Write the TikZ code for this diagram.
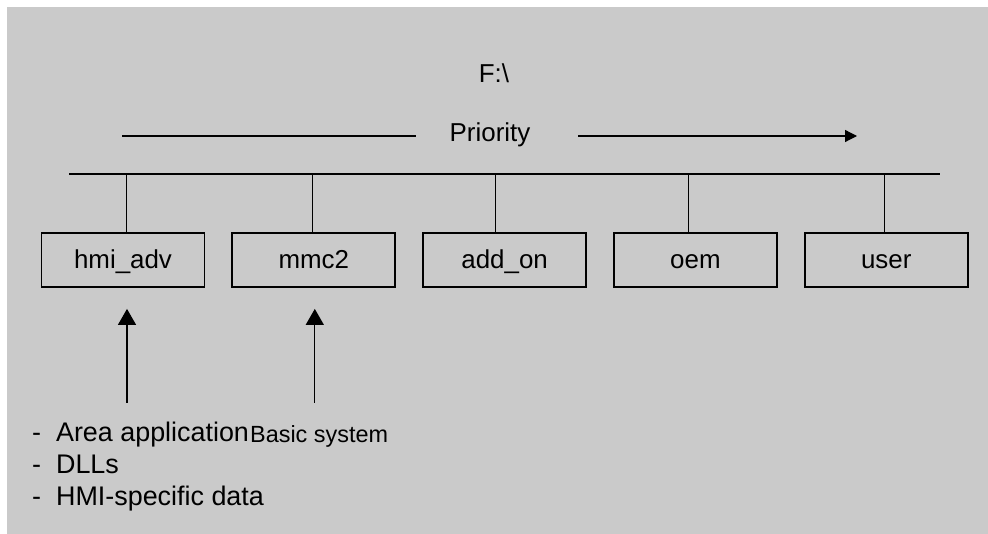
\documentclass[tikz,border=0pt]{standalone}
\usepackage{fontspec}
\setmainfont{Liberation Sans}
\usetikzlibrary{positioning,arrows.meta}

\definecolor{bggray}{RGB}{202,202,202}
\tikzset{
  folder/.style={draw, line width=1.8bp, minimum width=163bp, minimum height=54bp,
    inner sep=0pt, font=\fontsize{26}{30}\selectfont, text height=18.7bp, text depth=2.6bp},
  thinline/.style={line width=1.2bp},
  uparrow/.style={line width=1.3bp, -{Triangle[length=16bp,width=18bp]}},
}

\begin{document}
\begin{tikzpicture}[x=1bp, y=-1bp, node distance=26bp]
\useasboundingbox (0,0) rectangle (988,534);
\fill[bggray] (7,7) rectangle (988,534);

% drive and priority
\node[anchor=base, font=\fontsize{26}{30}\selectfont] (drive) at (494,83) {F:\textbackslash};
\node[anchor=base, font=\fontsize{26}{30}\selectfont] (prio) at (490,142) {Priority};
\coordinate (pstart) at (122,136);
\coordinate (pl) at (416,136);
\coordinate (pr) at (578,136);
\coordinate (pend) at (857,136);
\draw[thinline] (pstart) -- (pl);
\draw[thinline, -{Triangle[length=12bp,width=12bp]}] (pr) -- (pend);

% folders
\node[folder]                    (hmi)   at (123,260) {hmi\_adv};
\node[folder, right = of hmi]    (mmc)   {mmc2};
\node[folder, right = of mmc]    (addon) {add\_on};
\node[folder, right = of addon]  (oem)   {oem};
\node[folder, right = of oem]    (usr)   {user};

% tree lines
\coordinate (busl) at (69,174);
\coordinate (busr) at (940,174);
\draw[line width=1.4bp] (busl) -- (busr);
\foreach \n/\dx in {hmi/3, mmc/-1, addon/-9, oem/-7, usr/-2}
  \draw[line width=1bp] ([xshift=\dx bp]\n.north) -- ([xshift=\dx bp]\n.north |- busl);

% contents
\node[anchor=north west, align=left, inner sep=0pt, font=\fontsize{27}{32}\selectfont]
  (hmitxt) at (32,422) {-\ \ Area application\\-\ \ DLLs\\-\ \ HMI-specific data};
\node[anchor=base west, inner sep=0pt, font=\fontsize{23.5}{28}\selectfont]
  (mmctxt) at (250,442) {Basic system};
\draw[uparrow] ([xshift=4bp, yshift=-115bp]hmi.south) -- ([xshift=4bp, yshift=-21bp]hmi.south);
\draw[uparrow] ([xshift=1bp, yshift=-115bp]mmc.south) -- ([xshift=1bp, yshift=-21bp]mmc.south);
\end{tikzpicture}
\end{document}
